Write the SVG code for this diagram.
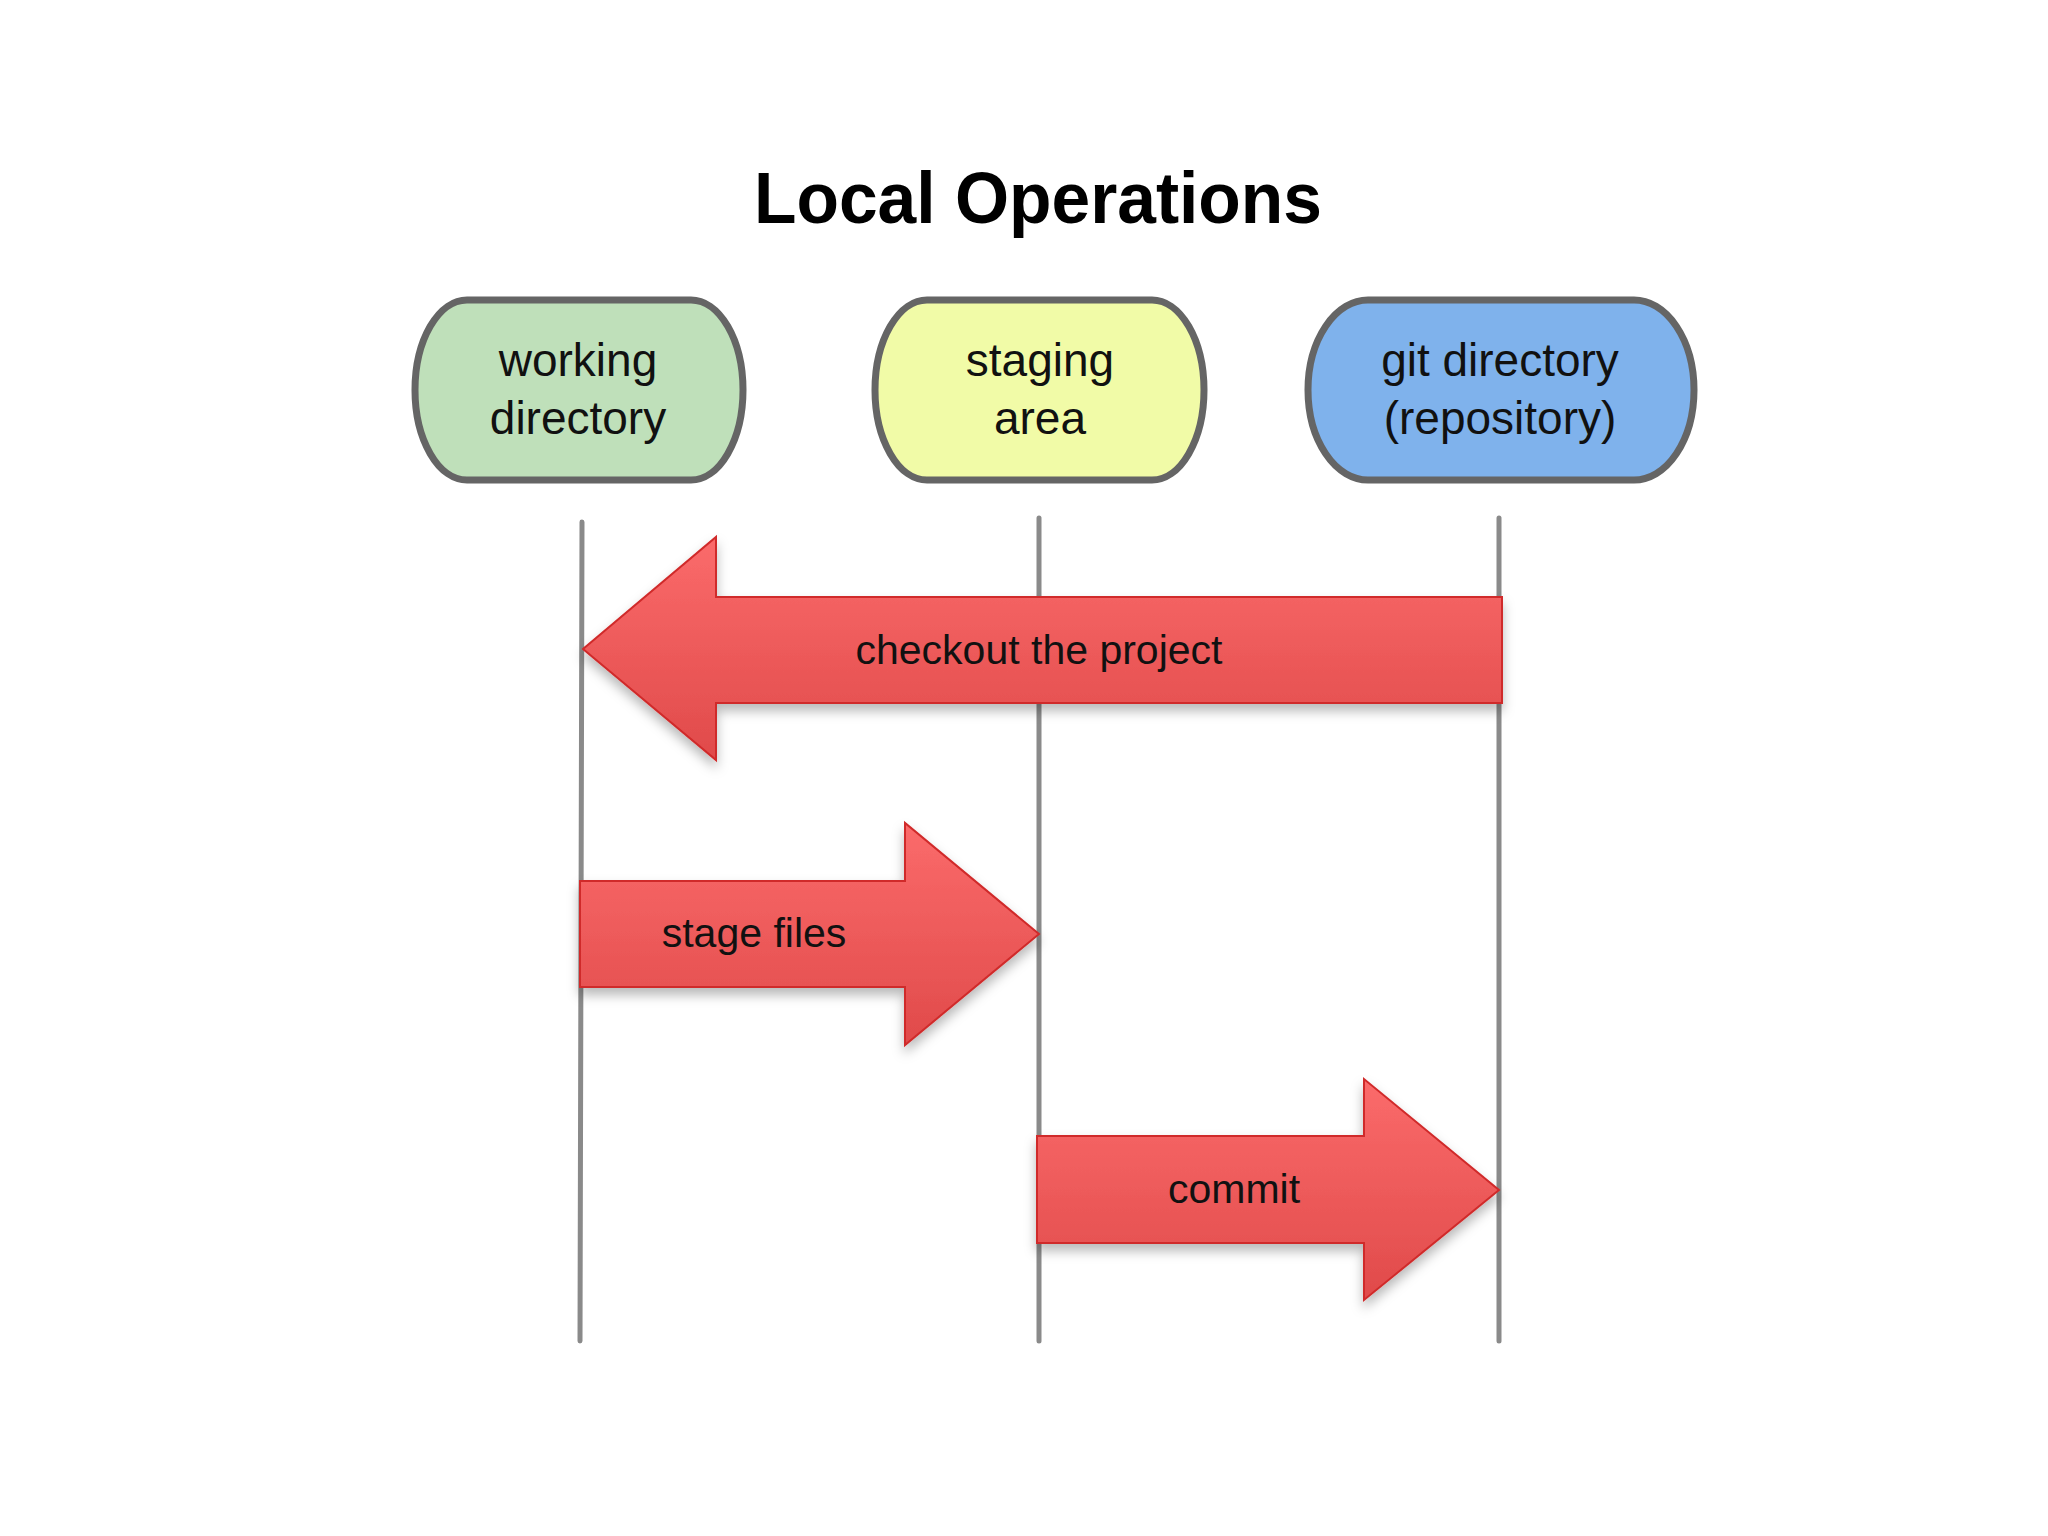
<svg xmlns="http://www.w3.org/2000/svg" width="2048" height="1536" viewBox="0 0 2048 1536">
  <style>
    .node rect { stroke: #656565; stroke-width: 7; }
    .nodetext { font-family: "Liberation Sans", Arial, sans-serif; font-size: 46px; fill: #111; text-anchor: middle; }
    .lane { stroke: #8a8a8a; stroke-width: 5; stroke-linecap: round; fill: none; }
    .arrow polygon { fill: url(#redGrad); stroke: #d02a2a; stroke-width: 2; filter: url(#shadow); }
    .arrowtext { font-family: "Liberation Sans", Arial, sans-serif; font-size: 41px; fill: #111; text-anchor: middle; }
    .title { font-family: "Liberation Sans", Arial, sans-serif; font-weight: bold; font-size: 72px; fill: #000; text-anchor: middle; }
  </style>
  <defs>
    <linearGradient id="redGrad" x1="0" y1="0" x2="0" y2="1">
      <stop offset="0" stop-color="#fb6b6b"/>
      <stop offset="1" stop-color="#e04a4a"/>
    </linearGradient>
    <filter id="shadow" x="-10%" y="-20%" width="120%" height="150%">
      <feDropShadow dx="0" dy="7" stdDeviation="6" flood-color="#000" flood-opacity="0.28"/>
    </filter>
  </defs>
  <rect width="2048" height="1536" fill="#ffffff"/>

  <text class="title" x="1038" y="223" textLength="568" lengthAdjust="spacingAndGlyphs">Local Operations</text>

  <g id="node-working">
    <g class="node"><rect x="415" y="300" width="328" height="180" rx="52" ry="90" fill="#bfe0ba"/></g>
    <text class="nodetext" x="578" y="376">working</text>
    <text class="nodetext" x="578" y="434">directory</text>
  </g>
  <g id="node-staging">
    <g class="node"><rect x="875" y="300" width="329" height="180" rx="52" ry="90" fill="#f1fba7"/></g>
    <text class="nodetext" x="1040" y="376">staging</text>
    <text class="nodetext" x="1040" y="434">area</text>
  </g>
  <g id="node-git">
    <g class="node"><rect x="1308" y="300" width="386" height="180" rx="60" ry="90" fill="#7fb2ec"/></g>
    <text class="nodetext" x="1500" y="376">git directory</text>
    <text class="nodetext" x="1500" y="434">(repository)</text>
  </g>

  <g id="connectors">
    <g id="lanes">
      <line class="lane" x1="582" y1="522" x2="580" y2="1341"/>
      <line class="lane" x1="1039" y1="518" x2="1039" y2="1341"/>
      <line class="lane" x1="1499" y1="518" x2="1499" y2="1341"/>
    </g>
    <g id="arrow-checkout" class="arrow">
      <polygon points="1502,597 716,597 716,537 583,649 716,760 716,703 1502,703"/>
      <text class="arrowtext" x="1039" y="664">checkout the project</text>
    </g>
    <g id="arrow-stage" class="arrow">
      <polygon points="580,881 905,881 905,823 1039,934 905,1045 905,987 580,987"/>
      <text class="arrowtext" x="754" y="947">stage files</text>
    </g>
    <g id="arrow-commit" class="arrow">
      <polygon points="1037,1136 1364,1136 1364,1079 1499,1190 1364,1300 1364,1243 1037,1243"/>
      <text class="arrowtext" x="1234" y="1203">commit</text>
    </g>
  </g>
</svg>
